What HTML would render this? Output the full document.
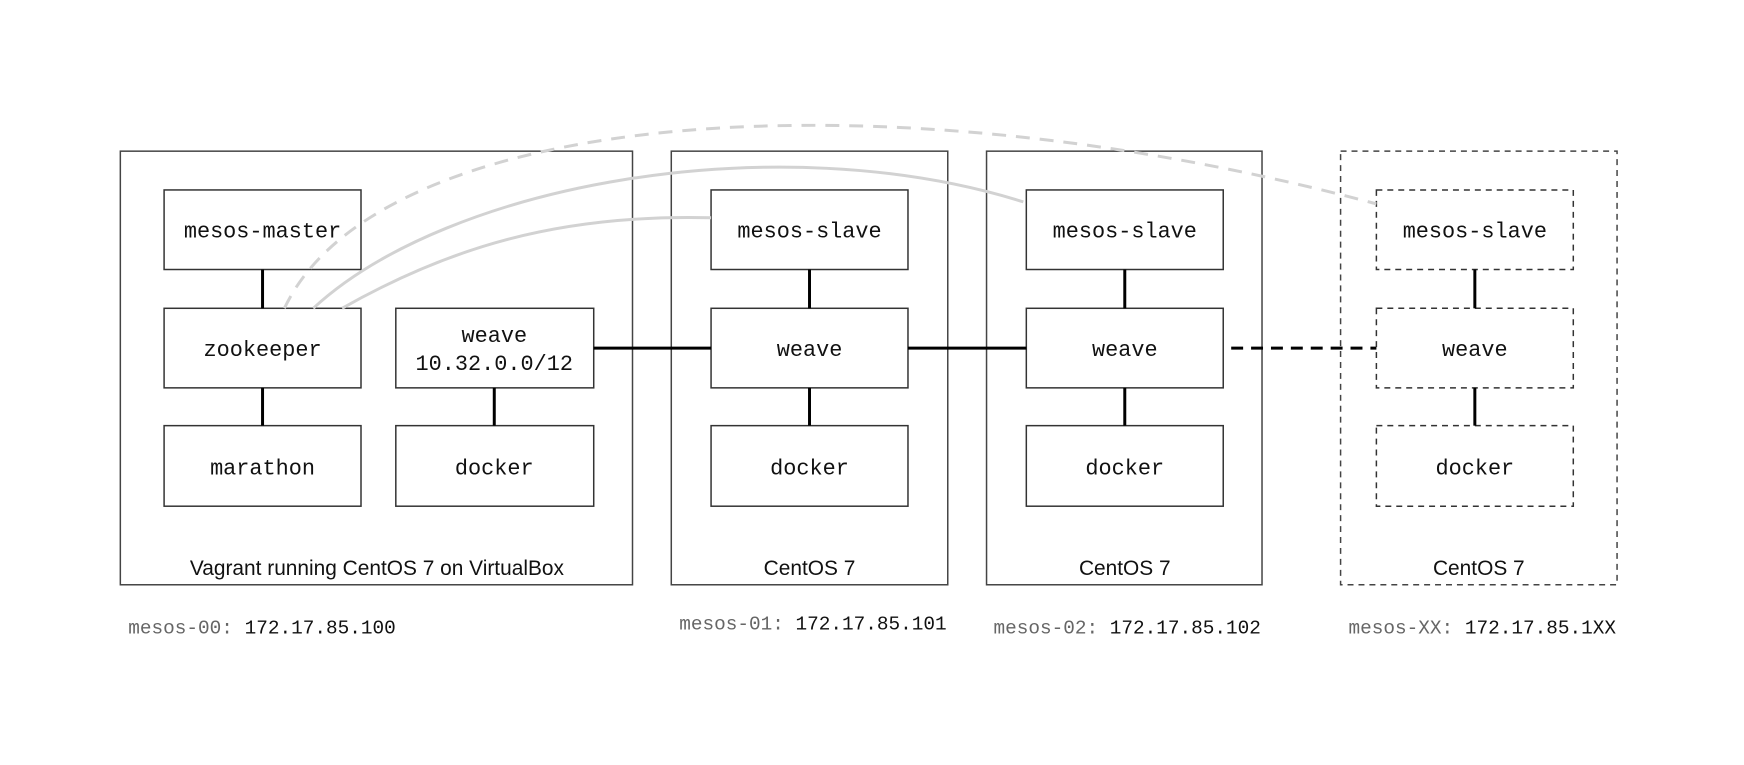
<!DOCTYPE html>
<html><head><meta charset="utf-8"><style>
html,body{margin:0;padding:0;background:#fff;}
svg{display:block;}
.m{font-family:"Liberation Mono",monospace;font-size:22px;fill:#111;}
.s{font-family:"Liberation Sans",sans-serif;font-size:21px;fill:#111;}
.ip{font-family:"Liberation Mono",monospace;font-size:19.5px;fill:#111;}
.g{fill:#666;}
</style></head><body>
<svg width="1744" height="765" viewBox="0 0 1744 765" xmlns="http://www.w3.org/2000/svg">
<g transform="scale(0.9945)">
<g fill="none" stroke="#444" stroke-width="1.5">
<rect x="121" y="152" width="515" height="436"/>
<rect x="675" y="152" width="278" height="436"/>
<rect x="992" y="152" width="277" height="436"/>
<rect x="1348" y="152" width="278" height="436" stroke-dasharray="6,5"/>
</g>
<g fill="#fff" stroke="#333" stroke-width="1.5">
<rect x="165" y="191" width="198" height="80"/>
<rect x="165" y="310" width="198" height="80"/>
<rect x="165" y="428" width="198" height="81"/>
<rect x="398" y="310" width="199" height="80"/>
<rect x="398" y="428" width="199" height="81"/>
<rect x="715" y="191" width="198" height="80"/>
<rect x="715" y="310" width="198" height="80"/>
<rect x="715" y="428" width="198" height="81"/>
<rect x="1032" y="191" width="198" height="80"/>
<rect x="1032" y="310" width="198" height="80"/>
<rect x="1032" y="428" width="198" height="81"/>
</g>
<g fill="#fff" stroke="#333" stroke-width="1.5" stroke-dasharray="6,5">
<rect x="1384" y="191" width="198" height="80"/>
<rect x="1384" y="310" width="198" height="80"/>
<rect x="1384" y="428" width="198" height="81"/>
</g>
<g fill="none" stroke="#d2d2d2" stroke-width="3">
<path d="M286,310 C380,110 880,70 1384,205" stroke-dasharray="14,10"/>
<path d="M315,310 C450,185 780,125 1029,203"/>
<path d="M344,310 C450,250 560,215 715,219"/>
</g>
<g stroke="#000" stroke-width="3">
<line x1="264" y1="271" x2="264" y2="310"/>
<line x1="264" y1="390" x2="264" y2="428"/>
<line x1="497" y1="390" x2="497" y2="428"/>
<line x1="814" y1="271" x2="814" y2="310"/>
<line x1="814" y1="390" x2="814" y2="428"/>
<line x1="1131" y1="271" x2="1131" y2="310"/>
<line x1="1131" y1="390" x2="1131" y2="428"/>
<line x1="1483" y1="271" x2="1483" y2="310"/>
<line x1="1483" y1="390" x2="1483" y2="428"/>
<line x1="597" y1="350" x2="715" y2="350"/>
<line x1="913" y1="350" x2="1032" y2="350"/>
<line x1="1238" y1="350" x2="1384" y2="350" stroke-dasharray="12,8"/>
</g>
<g class="m" text-anchor="middle">
<text x="264" y="239">mesos-master</text>
<text x="264" y="358">zookeeper</text>
<text x="264" y="477">marathon</text>
<text x="497" y="344">weave</text>
<text x="497" y="372">10.32.0.0/12</text>
<text x="497" y="477">docker</text>
<text x="814" y="239">mesos-slave</text>
<text x="814" y="358">weave</text>
<text x="814" y="477">docker</text>
<text x="1131" y="239">mesos-slave</text>
<text x="1131" y="358">weave</text>
<text x="1131" y="477">docker</text>
<text x="1483" y="239">mesos-slave</text>
<text x="1483" y="358">weave</text>
<text x="1483" y="477">docker</text>
</g>
<g class="s" text-anchor="middle">
<text x="379" y="578">Vagrant running CentOS 7 on VirtualBox</text>
<text x="814" y="578">CentOS 7</text>
<text x="1131" y="578">CentOS 7</text>
<text x="1487" y="578">CentOS 7</text>
</g>
<g class="ip">
<text x="129" y="637"><tspan class="g">mesos-00:</tspan> 172.17.85.100</text>
<text x="683" y="633"><tspan class="g">mesos-01:</tspan> 172.17.85.101</text>
<text x="999" y="637"><tspan class="g">mesos-02:</tspan> 172.17.85.102</text>
<text x="1356" y="637"><tspan class="g">mesos-XX:</tspan> 172.17.85.1XX</text>
</g>
</g>
</svg>
</body></html>
